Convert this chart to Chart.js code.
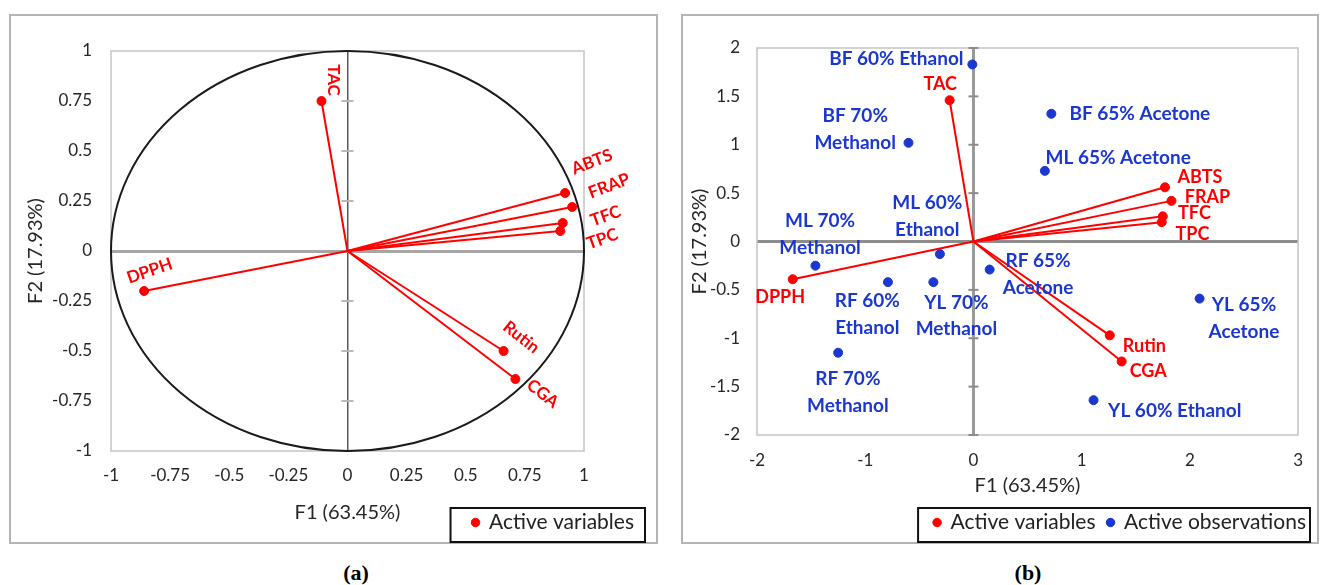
<!DOCTYPE html>
<html><head><meta charset="utf-8">
<script src="https://cdn.jsdelivr.net/npm/chart.js@4.4.1/dist/chart.umd.min.js"></script>
<style>
html,body{margin:0;padding:0;background:#fff;width:1320px;height:585px;overflow:hidden;}
.frame{position:absolute;border:2px solid #b4b4b4;box-sizing:border-box;}
.wrap{position:absolute;}
.cap{position:absolute;font-family:"Liberation Serif",serif;font-weight:bold;font-size:22px;color:#000;transform:translateX(-50%);line-height:24px;}
</style></head><body>
<div class="frame" style="left:9px;top:14px;width:649px;height:530px"></div>
<div class="frame" style="left:681px;top:14px;width:638px;height:530px"></div>
<div class="wrap" style="left:10px;top:15px;width:636px;height:528px"><canvas id="ca" width="636" height="528"></canvas></div>
<div class="wrap" style="left:682px;top:15px;width:636px;height:528px"><canvas id="cb" width="636" height="528"></canvas></div>
<div class="cap" style="left:356px;top:561px">(a)</div>
<div class="cap" style="left:1028px;top:561px">(b)</div>
<script>
// ---------- DATA ----------
const variables = ['TAC','ABTS','FRAP','TFC','TPC','DPPH','Rutin','CGA'];
// correlation circle (panel a)
const varF1 = [-0.11, 0.92, 0.95, 0.91, 0.90, -0.86, 0.66, 0.71];
const varF2 = [0.75, 0.29, 0.22, 0.14, 0.10, -0.20, -0.50, -0.64];
// biplot variables (panel b)
const biVarF1 = [-0.22, 1.77, 1.83, 1.75, 1.74, -1.67, 1.26, 1.37];
const biVarF2 = [1.46, 0.56, 0.42, 0.26, 0.20, -0.39, -0.97, -1.24];
// observations (panel b)
const observations = ['BF 60% Ethanol','BF 65% Acetone','BF 70% Methanol','ML 65% Acetone','ML 60% Ethanol','ML 70% Methanol','RF 65% Acetone','RF 60% Ethanol','YL 70% Methanol','YL 65% Acetone','RF 70% Methanol','YL 60% Ethanol'];
const obsF1 = [-0.01, 0.72, -0.60, 0.66, -0.31, -1.46, 0.15, -0.79, -0.37, 2.09, -1.25, 1.11];
const obsF2 = [1.83, 1.32, 1.02, 0.73, -0.13, -0.25, -0.29, -0.42, -0.42, -0.59, -1.15, -1.64];
// ticks
const ticksAX = [-1, -0.75, -0.5, -0.25, 0, 0.25, 0.5, 0.75, 1];
const ticksAY = [-1, -0.75, -0.5, -0.25, 0, 0.25, 0.5, 0.75, 1];
const ticksBX = [-2, -1, 0, 1, 2, 3];
const ticksBY = [-2, -1.5, -1, -0.5, 0, 0.5, 1, 1.5, 2];
const axisTitleX = 'F1 (63.45%)';
const axisTitleY = 'F2 (17.93%)';
const legendVar = 'Active variables';
const legendObs = 'Active observations';

// ---------- STYLE ----------
const RED = '#ff0000', BLUE = '#1a37d0', TXT = '#262626';
Chart.defaults.font.family = 'Lato, "Liberation Sans", sans-serif';
// label placement (pixel offsets from the point, rotation in degrees)
const labelStyleA = {
  TAC:{dx:11.5,dy:-21,rot:90}, ABTS:{dx:27,dy:-31,rot:-21}, FRAP:{dx:37,dy:-21,rot:-21},
  TFC:{dx:43,dy:-7,rot:-20}, TPC:{dx:42,dy:8,rot:-20}, DPPH:{dx:5.5,dy:-20,rot:-19},
  Rutin:{dx:17.6,dy:-13.7,rot:38}, CGA:{dx:27.3,dy:14.6,rot:38}
};
const labelStyleBVar = {
  TAC:{dx:-9.4,dy:-16}, ABTS:{dx:35,dy:-10}, FRAP:{dx:36,dy:-4}, TFC:{dx:31.6,dy:-3.3},
  TPC:{dx:30.7,dy:11.6}, DPPH:{dx:-12.6,dy:18}, Rutin:{dx:34.6,dy:10.7}, CGA:{dx:26.5,dy:9.7}
};
const labelStyleBObs = {
  'BF 60% Ethanol':{dx:-76,dy:-5.7}, 'BF 65% Acetone':{dx:88.5,dy:0}, 'BF 70% Methanol':{dx:-53.3,dy:-13.4,wrap:true},
  'ML 65% Acetone':{dx:73.3,dy:-13.3}, 'ML 60% Ethanol':{dx:-12.6,dy:-37.6,wrap:true}, 'ML 70% Methanol':{dx:4.6,dy:-31.5,wrap:true},
  'RF 65% Acetone':{dx:48.4,dy:4.7,wrap:true}, 'RF 60% Ethanol':{dx:-20.6,dy:32.2,wrap:true}, 'YL 70% Methanol':{dx:23,dy:33.8,wrap:true},
  'YL 65% Acetone':{dx:44.4,dy:19.7,wrap:true}, 'RF 70% Methanol':{dx:9.7,dy:39.7,wrap:true}, 'YL 60% Ethanol':{dx:81.2,dy:11}
};

function pts(xs, ys){ return xs.map((x,i)=>({x:x, y:ys[i]})); }
function vectors(xs, ys){
  return xs.map((x,i)=>({label:variables[i], inLegend:false, data:[{x:0,y:0},{x:x,y:ys[i]}],
    showLine:true, borderColor:RED, borderWidth:2, pointRadius:0, pointHoverRadius:0}));
}

function makeScales(c){
  const zero = (col, w) => ({
    drawTicks:false,
    color: ctx => (ctx.tick && ctx.tick.value === 0) ? col : 'rgba(0,0,0,0)',
    lineWidth: ctx => (ctx.tick && ctx.tick.value === 0) ? w : 0
  });
  const fmt = v => String(v);
  return {
    x:{type:'linear', min:c.tx[0], max:c.tx[c.tx.length-1],
      afterBuildTicks: s => { s.ticks = c.tx.map(v=>({value:v})); },
      afterFit: s => { s.height = c.xh; },
      grid: zero(c.vzColor, c.vzWidth), border:{display:false},
      ticks:{padding:c.xTickPad, color:TXT, font:{size:17}, maxRotation:0, autoSkip:false, callback:fmt},
      title:{display:true, text:axisTitleX, color:TXT, font:{size:20}, padding:{top:0,bottom:c.xTitlePad}}},
    y:{type:'linear', min:c.ty[0], max:c.ty[c.ty.length-1],
      afterBuildTicks: s => { s.ticks = c.ty.map(v=>({value:v})); },
      afterFit: s => { s.width = c.yw; },
      grid: zero(c.hzColor, c.hzWidth), border:{display:false},
      ticks:{padding:c.yTickPad, color:TXT, font:{size:17}, autoSkip:false, callback:fmt},
      title:{display:true, text:axisTitleY, color:TXT, font:{size:20}, padding:{top:c.yTitlePad,bottom:0}}},
    y2:{type:'linear', position:'right', display:true, grid:{display:false, drawTicks:false}, border:{display:false},
      ticks:{display:false}, afterFit: s => { s.width = c.rw; }}
  };
}

const framePlugin = (c) => ({
  id:'frameAndTicks',
  beforeDatasetsDraw(chart){
    const {ctx, chartArea:a, scales:{x,y}} = chart;
    ctx.save();
    ctx.strokeStyle = '#c4c4c4'; ctx.lineWidth = 1.5;
    ctx.strokeRect(a.left, a.top, a.right-a.left, a.bottom-a.top);
    const cx = x.getPixelForValue(0);
    ctx.strokeStyle = c.tickColor; ctx.lineWidth = 2;
    c.ty.forEach(v => { if (v === 0) return; const py = y.getPixelForValue(v);
      ctx.beginPath(); ctx.moveTo(cx-c.tickHalf, py); ctx.lineTo(cx+c.tickHalf, py); ctx.stroke(); });
    if (c.circle){
      const cy = y.getPixelForValue(0);
      const rx = x.getPixelForValue(1)-cx, ry = cy - y.getPixelForValue(1);
      ctx.strokeStyle = '#1a1a1a'; ctx.lineWidth = 2;
      ctx.beginPath(); ctx.ellipse(cx, cy, rx, ry, 0, 0, Math.PI*2); ctx.stroke();
    }
    ctx.restore();
  }
});

const labelsPlugin = (items) => ({
  id:'pointLabels',
  afterDatasetsDraw(chart){
    const {ctx, scales:{x,y}} = chart;
    items.forEach(it => {
      const px = x.getPixelForValue(it.x) + it.dx, py = y.getPixelForValue(it.y) + it.dy;
      ctx.save(); ctx.translate(px, py); ctx.rotate((it.rot||0)*Math.PI/180);
      ctx.font = it.font; ctx.fillStyle = it.color; ctx.textAlign='center'; ctx.textBaseline='middle';
      it.lines.forEach((t,k) => ctx.fillText(t, 0, (k-(it.lines.length-1)/2)*26.5));
      ctx.restore();
    });
  }
});

const legendBoxPlugin = (c) => ({
  id:'legendBox',
  afterDraw(chart){
    const lg = chart.legend; if (!lg || !lg.legendHitBoxes || !lg.legendHitBoxes.length) return;
    const hb = lg.legendHitBoxes, ctx = chart.ctx;
    const l = Math.min(...hb.map(h=>h.left)) - c.padL;
    const r = Math.min(Math.max(...hb.map(h=>h.left+h.width)) + c.padR, chart.width-1);
    const t = c.top, b = chart.height-1;
    ctx.save(); ctx.strokeStyle = '#111'; ctx.lineWidth = 2; ctx.strokeRect(l, t, r-l, b-t); ctx.restore();
  }
});

function legendOpts(){
  return {display:true, position:'bottom', align:'end',
    labels:{usePointStyle:true, pointStyle:'circle', boxWidth:6, boxHeight:6, padding:12, color:'#222', font:{size:21},
      filter:(item, data) => data.datasets[item.datasetIndex].inLegend !== false}};
}

// ---------- Panel (a) ----------
const cfgA = {tx:ticksAX, ty:ticksAY, xh:49, yw:101, rw:62, xTickPad:14, yTickPad:19, xTitlePad:-25, yTitlePad:14,
  vzColor:'#595959', vzWidth:1.5, hzColor:'#a6a6a6', hzWidth:3, tickColor:'#b8b8b8', tickHalf:6, circle:true};
const itemsA = variables.map((v,i)=>({x:varF1[i], y:varF2[i], dx:labelStyleA[v].dx, dy:labelStyleA[v].dy, rot:labelStyleA[v].rot,
  lines:[v], color:RED, font:'bold 17px Lato, sans-serif'}));
new Chart(document.getElementById('ca'), {
  type:'scatter',
  data:{datasets:[
    ...vectors(varF1, varF2),
    {label:legendVar, data:pts(varF1, varF2), backgroundColor:RED, borderColor:RED, pointRadius:4.5, pointStyle:'circle'}
  ]},
  options:{responsive:false, animation:false, layout:{padding:{top:36,left:0,right:0,bottom:0}},
    scales:makeScales(cfgA),
    plugins:{legend:legendOpts(), tooltip:{enabled:false}}},
  plugins:[framePlugin(cfgA), labelsPlugin(itemsA), legendBoxPlugin({padL:22, padR:12, top:493})]
});

// ---------- Panel (b) ----------
const cfgB = {tx:ticksBX, ty:ticksBY, xh:65, yw:75, rw:11, xTickPad:15, yTickPad:17, xTitlePad:2, yTitlePad:6,
  vzColor:'#9a9a9a', vzWidth:3, hzColor:'#8c8c8c', hzWidth:3, tickColor:'#8c8c8c', tickHalf:5, circle:false};
const itemsB = [
  ...variables.map((v,i)=>({x:biVarF1[i], y:biVarF2[i], dx:labelStyleBVar[v].dx, dy:labelStyleBVar[v].dy,
    lines:[v], color:RED, font:'bold 18px Lato, sans-serif'})),
  ...observations.map((o,i)=>{ const s = labelStyleBObs[o]; const w = o.split(' ');
    return {x:obsF1[i], y:obsF2[i], dx:s.dx, dy:s.dy,
      lines: s.wrap ? [w.slice(0,2).join(' '), w.slice(2).join(' ')] : [o], color:BLUE, font:'bold 19px Lato, sans-serif'}; })
];
new Chart(document.getElementById('cb'), {
  type:'scatter',
  data:{datasets:[
    ...vectors(biVarF1, biVarF2),
    {label:legendVar, data:pts(biVarF1, biVarF2), backgroundColor:RED, borderColor:RED, pointRadius:4.5, pointStyle:'circle'},
    {label:legendObs, data:pts(obsF1, obsF2), backgroundColor:BLUE, borderColor:BLUE, pointRadius:4.5, pointStyle:'circle'}
  ]},
  options:{responsive:false, animation:false, layout:{padding:{top:33,left:0,right:0,bottom:0}},
    scales:makeScales(cfgB),
    plugins:{legend:legendOpts(), tooltip:{enabled:false}}},
  plugins:[framePlugin(cfgB), labelsPlugin(itemsB), legendBoxPlugin({padL:16, padR:4, top:493})]
});
</script>
</body></html>
